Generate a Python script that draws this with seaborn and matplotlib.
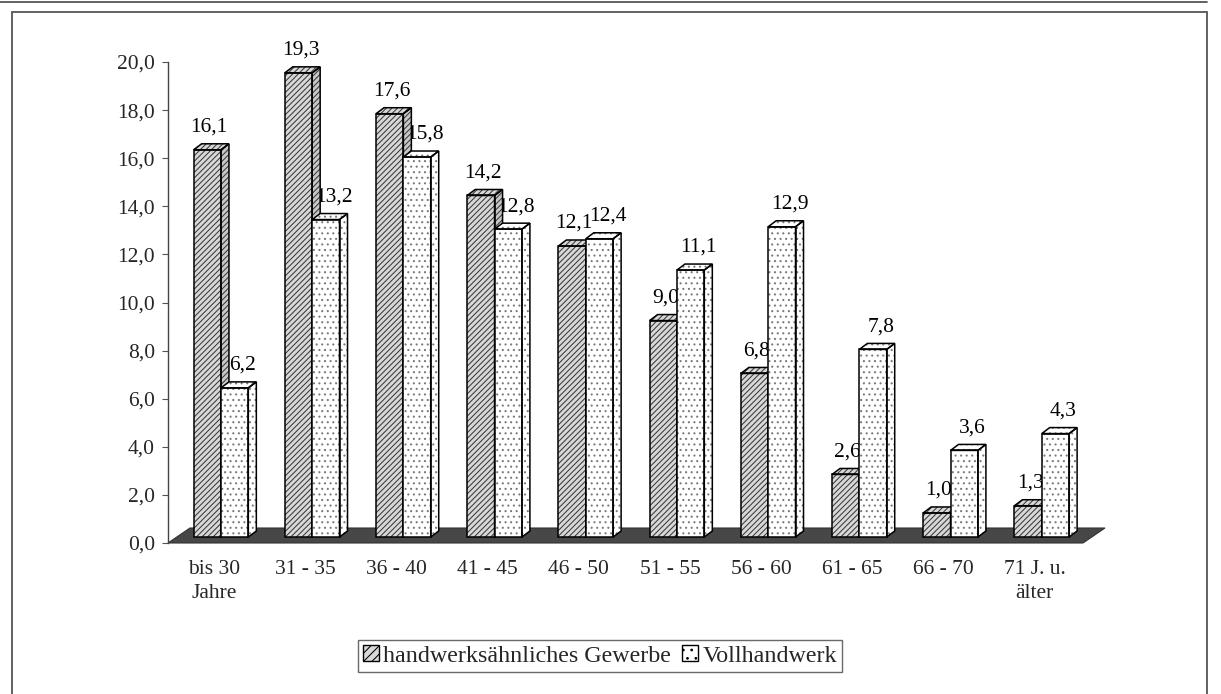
import matplotlib
matplotlib.use("Agg")
import matplotlib.pyplot as plt
import matplotlib.transforms as mtransforms
from matplotlib.patches import Polygon, Patch, Rectangle
from matplotlib.lines import Line2D
from matplotlib.ticker import FuncFormatter
import pandas as pd
import seaborn as sns

# --- data -------------------------------------------------------------------
categories = ["bis 30\nJahre", "31 - 35", "36 - 40", "41 - 45", "46 - 50",
              "51 - 55", "56 - 60", "61 - 65", "66 - 70", "71 J. u.\nälter"]
series_names = ["handwerksähnliches Gewerbe", "Vollhandwerk"]
handwerksaehnlich = [16.1, 19.3, 17.6, 14.2, 12.1, 9.0, 6.8, 2.6, 1.0, 1.3]
vollhandwerk = [6.2, 13.2, 15.8, 12.8, 12.4, 11.1, 12.9, 7.8, 3.6, 4.3]
y_ticks = [0, 2, 4, 6, 8, 10, 12, 14, 16, 18, 20]


def de_fmt(v):
    return f"{v:.1f}".replace(".", ",")


df = pd.DataFrame({
    "Altersgruppe": categories * 2,
    "Reihe": [series_names[0]] * len(categories) + [series_names[1]] * len(categories),
    "Anteil": handwerksaehnlich + vollhandwerk,
})

# --- style ------------------------------------------------------------------
sns.set_style("white")
plt.rcParams["font.family"] = ["Liberation Serif", "DejaVu Serif"]
plt.rcParams["hatch.linewidth"] = 0.75
FS = 15.5

W, H = 1221, 694
fig = plt.figure(figsize=(W / 100, H / 100), dpi=100)
ax = fig.add_axes([168 / W, (H - 543) / H, (1083 - 168) / W, (543 - 62) / H])

styles = {
    0: dict(face="#d8d8d8", side="#c8c8c8", hatch="//////", hcol="#3a3a3a", z=3.0),
    1: dict(face="white", side="white", hatch="...", hcol="#7a7a7a", z=4.0),
}

sns.barplot(data=df, x="Altersgruppe", y="Anteil", hue="Reihe",
            order=categories, hue_order=series_names, width=0.6,
            palette=[styles[0]["face"], styles[1]["face"]], saturation=1,
            errorbar=None, legend=False, ax=ax)

ax.set_xlim(-0.504, 9.529)
ax.set_ylim(0, 20)

# pixel <-> data scale for the pseudo-3D depth
p0 = ax.transData.transform((0, 0))
p1 = ax.transData.transform((1, 1))
px_x, px_y = p1[0] - p0[0], p1[1] - p0[1]

# floor slab
fdx, fdy = 22 / px_x, 15 / px_y
xl, xr = ax.get_xlim()
floor = Polygon([(xl, 0), (xr, 0), (xr + fdx, fdy), (xl + fdx, fdy)],
                closed=True, facecolor="#474747", edgecolor="#333333",
                lw=0.8, zorder=1, clip_on=False)
ax.add_patch(floor)

# bars stand slightly back on the floor
bar_tr = mtransforms.offset_copy(ax.transData, fig=fig, x=7, y=6, units="dots")
ddx, ddy = 8 / px_x, 6 / px_y


def face(points, st, fill):
    """Hatched fill (hatch in its own colour) plus a black outline on top."""
    ax.add_patch(Polygon(points, closed=True, facecolor=fill, edgecolor=st["hcol"],
                         lw=0, hatch=st["hatch"], transform=bar_tr,
                         zorder=st["z"], clip_on=False))
    ax.add_patch(Polygon(points, closed=True, fill=False, edgecolor="black",
                         lw=1.1, transform=bar_tr, zorder=st["z"] + 0.01,
                         clip_on=False))


for bar in [p for p in ax.patches if p is not floor]:
    x0 = bar.get_x()
    w = bar.get_width()
    h = bar.get_height()
    cx = x0 + w / 2
    hue = 0 if cx - round(cx) < 0 else 1
    st = styles[hue]
    bar.set_transform(bar_tr)
    bar.set_facecolor(st["face"])
    bar.set_edgecolor(st["hcol"])
    bar.set_linewidth(0)
    bar.set_hatch(st["hatch"])
    bar.set_zorder(st["z"])
    bar.set_clip_on(False)
    x1 = x0 + w
    ax.add_patch(Polygon([(x0, 0), (x1, 0), (x1, h), (x0, h)], closed=True,
                         fill=False, edgecolor="black", lw=1.1, transform=bar_tr,
                         zorder=st["z"] + 0.01, clip_on=False))
    face([(x0, h), (x1, h), (x1 + ddx, h + ddy), (x0 + ddx, h + ddy)], st, st["face"])
    face([(x1, 0), (x1 + ddx, ddy), (x1 + ddx, h + ddy), (x1, h)], st, st["side"])
    lab_tr = mtransforms.offset_copy(ax.transData, fig=fig,
                                     x=7 + (2 if hue == 0 else 8), y=24, units="dots")
    ax.text(cx, h, de_fmt(h), transform=lab_tr, ha="center", va="baseline",
            fontsize=FS, color="black", zorder=2.5, clip_on=False)

# --- axes -------------------------------------------------------------------
for s in ("top", "right", "bottom"):
    ax.spines[s].set_visible(False)
ax.spines["left"].set_color("#444444")
ax.spines["left"].set_linewidth(1.0)
ax.set_yticks(y_ticks)
ax.yaxis.set_major_formatter(FuncFormatter(lambda v, _: de_fmt(v)))
ax.tick_params(axis="y", left=True, length=4.5, width=0.8, color="#555555",
               pad=5, labelsize=FS)
ax.set_xticks(range(len(categories)))
ax.set_xticklabels(categories, linespacing=1.35)
ax.tick_params(axis="x", bottom=False, length=0, pad=12, labelsize=FS)
ax.set_xlabel("")
ax.set_ylabel("")
ax.grid(False)

# --- legend -----------------------------------------------------------------
handles = [Patch(facecolor=styles[i]["face"], edgecolor="black",
                 hatch=("////" if i == 0 else ".."), lw=1.0) for i in (0, 1)]
leg = fig.legend(handles, series_names, loc="center",
                 bbox_to_anchor=(600 / W, 1 - 656 / H), ncol=2, frameon=True,
                 fancybox=False, fontsize=17.3, borderpad=0.2,
                 handlelength=0.65, handleheight=0.65, handletextpad=0.2,
                 columnspacing=0.45, borderaxespad=0)
leg.get_frame().set_edgecolor("#444444")
leg.get_frame().set_linewidth(1.0)

# --- page frame -------------------------------------------------------------
fig.add_artist(Line2D([0, 1207 / W], [1 - 2 / H, 1 - 2 / H],
                      transform=fig.transFigure, color="#555555", lw=1.3))
fig.add_artist(Rectangle((12 / W, -0.02), (1207 - 12) / W, (H - 12) / H + 0.02,
                         transform=fig.transFigure, fill=False,
                         edgecolor="#555555", lw=1.3))

fig.savefig("out.png", dpi=100)
